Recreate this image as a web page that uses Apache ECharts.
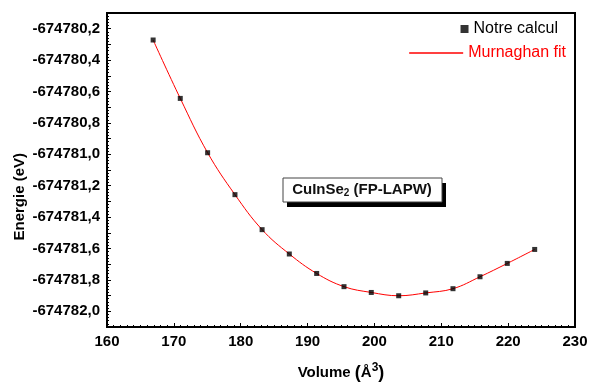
<!DOCTYPE html>
<html>
<head>
<meta charset="utf-8">
<script src="https://cdn.jsdelivr.net/npm/echarts@6/dist/echarts.min.js"></script>
<style>html,body{margin:0;padding:0;background:#fff}#c{width:590px;height:383px}</style>
</head>
<body>
<div id="c"></div>
<script>
// Data
const volumes = [166.9, 170.96, 175.05, 179.14, 183.2, 187.27, 191.36, 195.45, 199.53, 203.63, 207.67, 211.75, 215.79, 219.87, 223.97];
const energies = [-674780.272, -674780.644, -674780.99, -674781.257, -674781.48, -674781.635, -674781.759, -674781.843, -674781.880, -674781.901, -674781.883, -674781.856, -674781.780, -674781.695, -674781.606];
const xTicks = [160, 170, 180, 190, 200, 210, 220, 230];
const yLabelValues = [-674782.0, -674781.8, -674781.6, -674781.4, -674781.2, -674781.0, -674780.8, -674780.6, -674780.4, -674780.2];
const seriesNames = ['Notre calcul', 'Murnaghan fit'];

const pts = volumes.map((v, i) => [v, energies[i]]);
const FONT = '"Liberation Sans", Arial, sans-serif';

const chart = echarts.init(document.getElementById('c'), null, {renderer: 'canvas'});
chart.setOption({
  animation: false,
  backgroundColor: '#fff',
  grid: {left: 107, right: 15, top: 13, bottom: 56, show: true, borderColor: '#000', borderWidth: 2,
         containLabel: false, outerBoundsMode: 'none'},
  legend: [
    {data: [{name: seriesNames[0]}], right: 32, top: 21, padding: 0, itemWidth: 8, itemHeight: 8, icon: 'rect',
     textStyle: {fontFamily: FONT, fontSize: 16, color: '#000'}},
    {data: [{name: seriesNames[1], icon: 'rect', textStyle: {color: '#ff0000'}}], right: 24, top: 45, padding: 0, itemWidth: 54, itemHeight: 1.5,
     itemStyle: {color: '#ff0000'},
     textStyle: {fontFamily: FONT, fontSize: 16, color: '#ff0000'}}
  ],
  xAxis: {
    type: 'value', min: xTicks[0], max: xTicks[xTicks.length - 1], interval: 10,
    name: 'Volume {p|(}Å{sup|3}{p|)}', nameLocation: 'middle', nameGap: 35,
    nameTextStyle: {fontFamily: FONT, fontSize: 15, fontWeight: 'bold', color: '#000',
      rich: {p: {fontFamily: FONT, fontSize: 18, fontWeight: 'bold', color: '#000'},
             sup: {fontFamily: FONT, fontSize: 12, fontWeight: 'bold', color: '#000', verticalAlign: 'top', padding: [0, 0, 10, 0]}}},
    axisLine: {lineStyle: {color: '#000', width: 2}},
    axisTick: {inside: true, length: 4, lineStyle: {color: '#000'}},
    minorTick: {show: true, splitNumber: 10, length: 2, lineStyle: {color: '#000'}},
    splitLine: {show: false},
    axisLabel: {fontFamily: FONT, fontSize: 15, fontWeight: 'bold', color: '#000', margin: 7,
      formatter: v => xTicks.includes(v) ? String(v) : ''}
  },
  yAxis: {
    type: 'value', min: -674782.1, max: -674780.1, interval: 0.1,
    axisLine: {lineStyle: {color: '#000', width: 2}},
    axisTick: {inside: true, length: 4, lineStyle: {color: '#000'}},
    minorTick: {show: true, splitNumber: 5, length: 2, lineStyle: {color: '#000'}},
    splitLine: {show: false},
    axisLabel: {fontFamily: FONT, fontSize: 15, fontWeight: 'bold', color: '#000', margin: 7,
      formatter: v => {
        const r = Math.round(v * 10) / 10;
        const hit = yLabelValues.find(t => Math.abs(t - r) < 1e-6);
        return hit === undefined ? '' : hit.toFixed(1).replace('.', ',');
      }}
  },
  graphic: [
    {type: 'text', left: 12, top: 153, rotation: Math.PI / 2,
     style: {text: 'Energie (eV)', font: 'bold 15px ' + FONT, fill: '#000'}},
    {type: 'rect', shape: {x: 287, y: 183, width: 159, height: 24}, style: {fill: '#000'}, z: 10},
    {type: 'rect', shape: {x: 283, y: 178, width: 159, height: 24}, style: {fill: '#fff', stroke: '#444', lineWidth: 1}, z: 11},
    {type: 'text', x: 362, y: 190, z: 12,
     style: {text: 'CuInSe{sub|2} (FP-LAPW)', align: 'center', verticalAlign: 'middle',
       font: 'bold 15px ' + FONT, fill: '#111',
       rich: {sub: {font: 'bold 10px ' + FONT, fill: '#111', verticalAlign: 'bottom', padding: [6, 0, 0, 0]}}}}
  ],
  series: [
    {name: seriesNames[1], type: 'line', data: pts, smooth: 0.4, symbol: 'none',
     lineStyle: {color: '#ff0000', width: 1}, itemStyle: {color: '#ff0000'}, z: 2},
    {name: seriesNames[0], type: 'scatter', data: pts, symbol: 'rect', symbolSize: 5,
     itemStyle: {color: '#000'}, z: 3}
  ]
});
</script>
</body>
</html>
